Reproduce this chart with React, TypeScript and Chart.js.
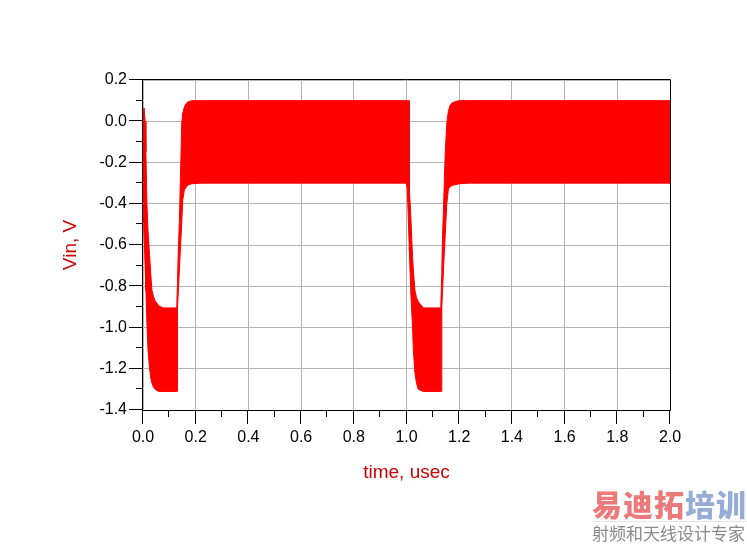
import React, { useEffect, useRef } from 'react';
import { Chart, registerables } from 'chart.js';

Chart.register(...registerables);

// time axis (usec) shared by the upper and lower envelope of the oscillating Vin trace
const timeUs = [
  0, 0.004, 0.008, 0.011, 0.015, 0.019, 0.025, 0.03, 0.034, 0.04, 0.046, 0.06, 0.076,
  0.128, 0.1305, 0.131, 0.134, 0.138, 0.142, 0.147, 0.151, 0.157, 0.165, 0.172, 0.185, 0.22,
  1.0, 1.003, 1.008, 1.0105, 1.011, 1.016, 1.023, 1.026, 1.032, 1.038, 1.045, 1.064,
  1.13, 1.1335, 1.134, 1.137, 1.141, 1.147, 1.153, 1.159, 1.165, 1.172, 1.184, 1.2, 1.24, 2.0,
];
const upperV = [
  0.03, 0.064, 0.0, -0.15, -0.4, -0.53, -0.65, -0.75, -0.82, -0.85, -0.87, -0.895, -0.905,
  -0.905, -0.8, -0.76, -0.63, -0.49, -0.28, -0.008, 0.04, 0.07, 0.088, 0.095, 0.1, 0.1,
  0.1, 0.1, 0.1, 0.1, -0.33, -0.45, -0.657, -0.72, -0.82, -0.855, -0.875, -0.905,
  -0.905, -0.75, -0.72, -0.55, -0.4, -0.15, -0.008, 0.05, 0.075, 0.088, 0.095, 0.1, 0.1, 0.1,
];
const lowerV = [
  -0.4, -0.55, -0.7, -0.82, -0.98, -1.11, -1.2, -1.25, -1.27, -1.29, -1.3, -1.31, -1.31,
  -1.31, -1.31, -0.9, -0.83, -0.72, -0.62, -0.49, -0.38, -0.333, -0.318, -0.309, -0.303, -0.3,
  -0.3, -0.33, -0.52, -0.61, -0.63, -0.82, -1.0, -1.11, -1.22, -1.27, -1.3, -1.31,
  -1.31, -1.31, -0.9, -0.82, -0.7, -0.55, -0.4, -0.33, -0.318, -0.312, -0.308, -0.303, -0.3, -0.3,
];

const xMajorTicks = [0, 0.2, 0.4, 0.6, 0.8, 1.0, 1.2, 1.4, 1.6, 1.8, 2.0];
const xMinorTicks = [0.1, 0.3, 0.5, 0.7, 0.9, 1.1, 1.3, 1.5, 1.7, 1.9];
const yMajorTicks = [-1.4, -1.2, -1.0, -0.8, -0.6, -0.4, -0.2, 0.0, 0.2];
const yMinorTicks = [-1.3, -1.1, -0.9, -0.7, -0.5, -0.3, -0.1, 0.1];

const xTitle = 'time, usec';
const yTitle = 'Vin, V';

const RED = '#ff0000';
const TITLE_RED = '#cc0000';
const TICK_FONT = { family: "'Liberation Sans', Arial, sans-serif", size: 16 };
const TITLE_FONT = { family: "'Liberation Sans', Arial, sans-serif", size: 19 };

const framePlugin = {
  id: 'frameTicks',
  afterDraw(chart: any) {
    const { ctx, chartArea, scales } = chart;
    const { left, right, top, bottom } = chartArea;
    ctx.save();
    ctx.strokeStyle = '#000';
    ctx.lineWidth = 1;
    ctx.beginPath();
    ctx.rect(Math.round(left) - 0.5, Math.round(top) - 0.5, Math.round(right - left) + 1, Math.round(bottom - top) + 1);
    ctx.stroke();
    const drawX = (vals: number[], len: number) => {
      vals.forEach((v) => {
        const px = Math.round(scales.x.getPixelForValue(v)) - 0.5;
        ctx.beginPath();
        ctx.moveTo(px, bottom);
        ctx.lineTo(px, bottom + len);
        ctx.stroke();
      });
    };
    const drawY = (vals: number[], len: number) => {
      vals.forEach((v) => {
        const py = Math.round(scales.y.getPixelForValue(v)) - 0.5;
        ctx.beginPath();
        ctx.moveTo(left - len, py);
        ctx.lineTo(left, py);
        ctx.stroke();
      });
    };
    drawX(xMajorTicks, 14);
    drawX(xMinorTicks, 7);
    drawY(yMajorTicks, 14);
    drawY(yMinorTicks, 7);
    ctx.restore();
  },
};

const fmt = (v: number) => (Math.abs(v) < 1e-9 ? 0 : v).toFixed(1);

export default function App() {
  const ref = useRef<HTMLCanvasElement | null>(null);

  useEffect(() => {
    if (!ref.current) return;
    const chart = new Chart(ref.current, {
      type: 'line',
      data: {
        datasets: [
          {
            data: timeUs.map((t, i) => ({ x: t, y: upperV[i] })),
            borderColor: RED,
            backgroundColor: RED,
            borderWidth: 1,
            pointRadius: 0,
            tension: 0,
            fill: '+1',
          },
          {
            data: timeUs.map((t, i) => ({ x: t, y: lowerV[i] })),
            borderColor: RED,
            backgroundColor: RED,
            borderWidth: 1,
            pointRadius: 0,
            tension: 0,
            fill: false,
          },
        ],
      },
      options: {
        animation: false,
        responsive: false,
        events: [],
        layout: { padding: { top: 80, right: 77, left: 0, bottom: 0 } },
        plugins: { legend: { display: false }, tooltip: { enabled: false } },
        scales: {
          x: {
            type: 'linear',
            min: 0,
            max: 2,
            afterBuildTicks: (s: any) => {
              s.ticks = xMajorTicks.map((v) => ({ value: v }));
            },
            afterFit: (s: any) => {
              s.height = 136;
            },
            grid: { color: '#b4b4b4', lineWidth: 1, drawTicks: false },
            border: { display: false },
            ticks: {
              padding: 18,
              maxRotation: 0,
              autoSkip: false,
              color: '#000',
              font: TICK_FONT,
              callback: (v: any) => fmt(Number(v)),
            },
            title: {
              display: true,
              text: xTitle,
              color: TITLE_RED,
              font: TITLE_FONT,
              padding: { top: 0, bottom: 62 },
            },
          },
          y: {
            type: 'linear',
            min: -1.4,
            max: 0.2,
            afterBuildTicks: (s: any) => {
              s.ticks = yMajorTicks.map((v) => ({ value: v }));
            },
            afterFit: (s: any) => {
              s.width = 143;
            },
            grid: { color: '#b4b4b4', lineWidth: 1, drawTicks: false },
            border: { display: false },
            ticks: {
              padding: 16,
              autoSkip: false,
              color: '#000',
              font: TICK_FONT,
              callback: (v: any) => fmt(Number(v)),
            },
            title: {
              display: true,
              text: yTitle,
              color: TITLE_RED,
              font: TITLE_FONT,
              padding: { top: 59, bottom: 0 },
            },
          },
        },
      },
      plugins: [framePlugin],
    } as any);
    return () => chart.destroy();
  }, []);

  return (
    <div style={{ position: 'fixed', left: 0, top: 0, width: 747, height: 546, background: '#fff' }}>
      <canvas ref={ref} width={747} height={546} style={{ display: 'block' }} />
      <div
        style={{
          position: 'absolute',
          left: 592,
          top: 488,
          width: 154,
          fontFamily: "'Noto Sans CJK SC', sans-serif",
          lineHeight: 1,
          whiteSpace: 'nowrap',
        }}
      >
        <div style={{ fontSize: 30, fontWeight: 900, letterSpacing: 1, borderBottom: '1px solid #e4e4e4', paddingBottom: 3 }}>
          <span style={{ color: '#ec7a7a' }}>易迪拓</span>
          <span style={{ color: '#95acd6' }}>培训</span>
        </div>
        <div style={{ fontSize: 17, color: '#8a8a8a', marginTop: 2 }}>射频和天线设计专家</div>
      </div>
    </div>
  );
}
